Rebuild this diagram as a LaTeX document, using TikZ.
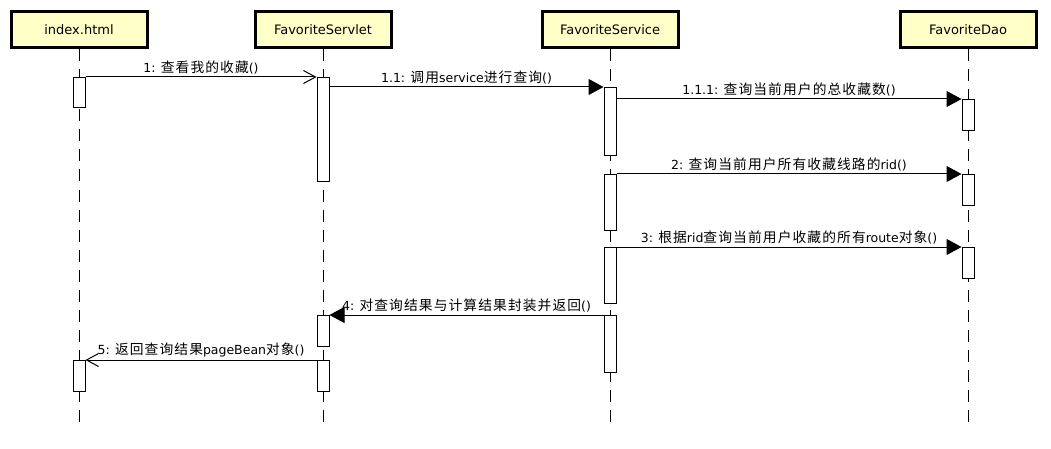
\documentclass[tikz,border=0pt]{standalone}
\usepackage{fontspec}
\setmainfont{DejaVu Sans}
\newfontfamily\cjk[Scale=1.1,LetterSpace=8]{Noto Sans CJK SC}
\newcommand{\zh}[1]{{\cjk #1}}
\usetikzlibrary{arrows.meta}
\definecolor{headfill}{RGB}{255,255,200}
\tikzset{
  header/.style={draw, line width=3pt, fill=headfill, minimum width=136pt,
    minimum height=36pt, inner sep=0pt, font=\fontsize{13}{15}\selectfont},
  act/.style={draw, fill=white, line width=1pt, minimum width=12pt,
    inner sep=0pt, anchor=north},
  lifeline/.style={line width=1pt, dash pattern=on 12pt off 8pt},
  call/.style={line width=1pt, -{Triangle[length=15pt,width=16pt]}},
  callopen/.style={line width=1pt, -{Straight Barb[length=12pt,width=13pt]}},
  lbl/.style={midway, above, inner sep=2.5pt, font=\fontsize{12.5}{14}\selectfont}
}
\begin{document}
\begin{tikzpicture}[x=1pt,y=-1pt]
  \useasboundingbox (0,0) rectangle (1051,449);
  % Objekte
  \node[header] (index) at (79,30) {index.html};
  \node[header] (servlet) at (323,30) {FavoriteServlet};
  \node[header] (service) at (610,30) {FavoriteService};
  \node[header] (dao) at (968,30) {FavoriteDao};
  \coordinate (bottom) at (0,427);
  % Lebenslinien
  \foreach \n in {index,servlet,service,dao}
    \draw[lifeline] (\n.south) -- (\n.south |- bottom);
  % Aktivierungen
  \node[act, minimum height=30pt] (A1) at (79,77) {};
  \node[act, minimum height=31pt] (A2) at (79,360) {};
  \node[act, minimum height=104pt] (S1) at (323,77) {};
  \node[act, minimum height=31pt] (S2) at (323,315) {};
  \node[act, minimum height=31pt] (S3) at (323,360) {};
  \node[act, minimum height=68pt] (V1) at (610,87) {};
  \node[act, minimum height=56pt] (V2) at (610,174) {};
  \node[act, minimum height=56pt] (V3) at (610,247) {};
  \node[act, minimum height=57pt] (V4) at (610,315) {};
  \node[act, minimum height=31pt] (D1) at (968,99) {};
  \node[act, minimum height=31pt] (D2) at (968,174) {};
  \node[act, minimum height=31pt] (D3) at (968,247) {};
  % Nachrichten
  \draw[callopen] (A1.north east) -- (S1.north west)
    node[lbl] {1: \zh{查看我的收藏}()};
  \draw[call] (S1.east |- V1.north) -- (V1.north west)
    node[lbl] {1.1: \zh{调用}service\zh{进行查询}()};
  \draw[call] (V1.east |- D1.north) -- (D1.north west)
    node[lbl] {1.1.1: \zh{查询当前用户的总收藏数}()};
  \draw[call] (V2.north east) -- (D2.north west)
    node[lbl] {2: \zh{查询当前用户所有收藏线路的}rid()};
  \draw[call] (V3.north east) -- (D3.north west)
    node[lbl] {3: \zh{根据}rid\zh{查询当前用户收藏的所有}route\zh{对象}()};
  \draw[call] (V4.north west) -- (S2.north east)
    node[lbl] {4: \zh{对查询结果与计算结果封装并返回}()};
  \draw[callopen] (S3.north west) -- (A2.north east)
    node[lbl] {5: \zh{返回查询结果}pageBean\zh{对象}()};
\end{tikzpicture}
\end{document}
